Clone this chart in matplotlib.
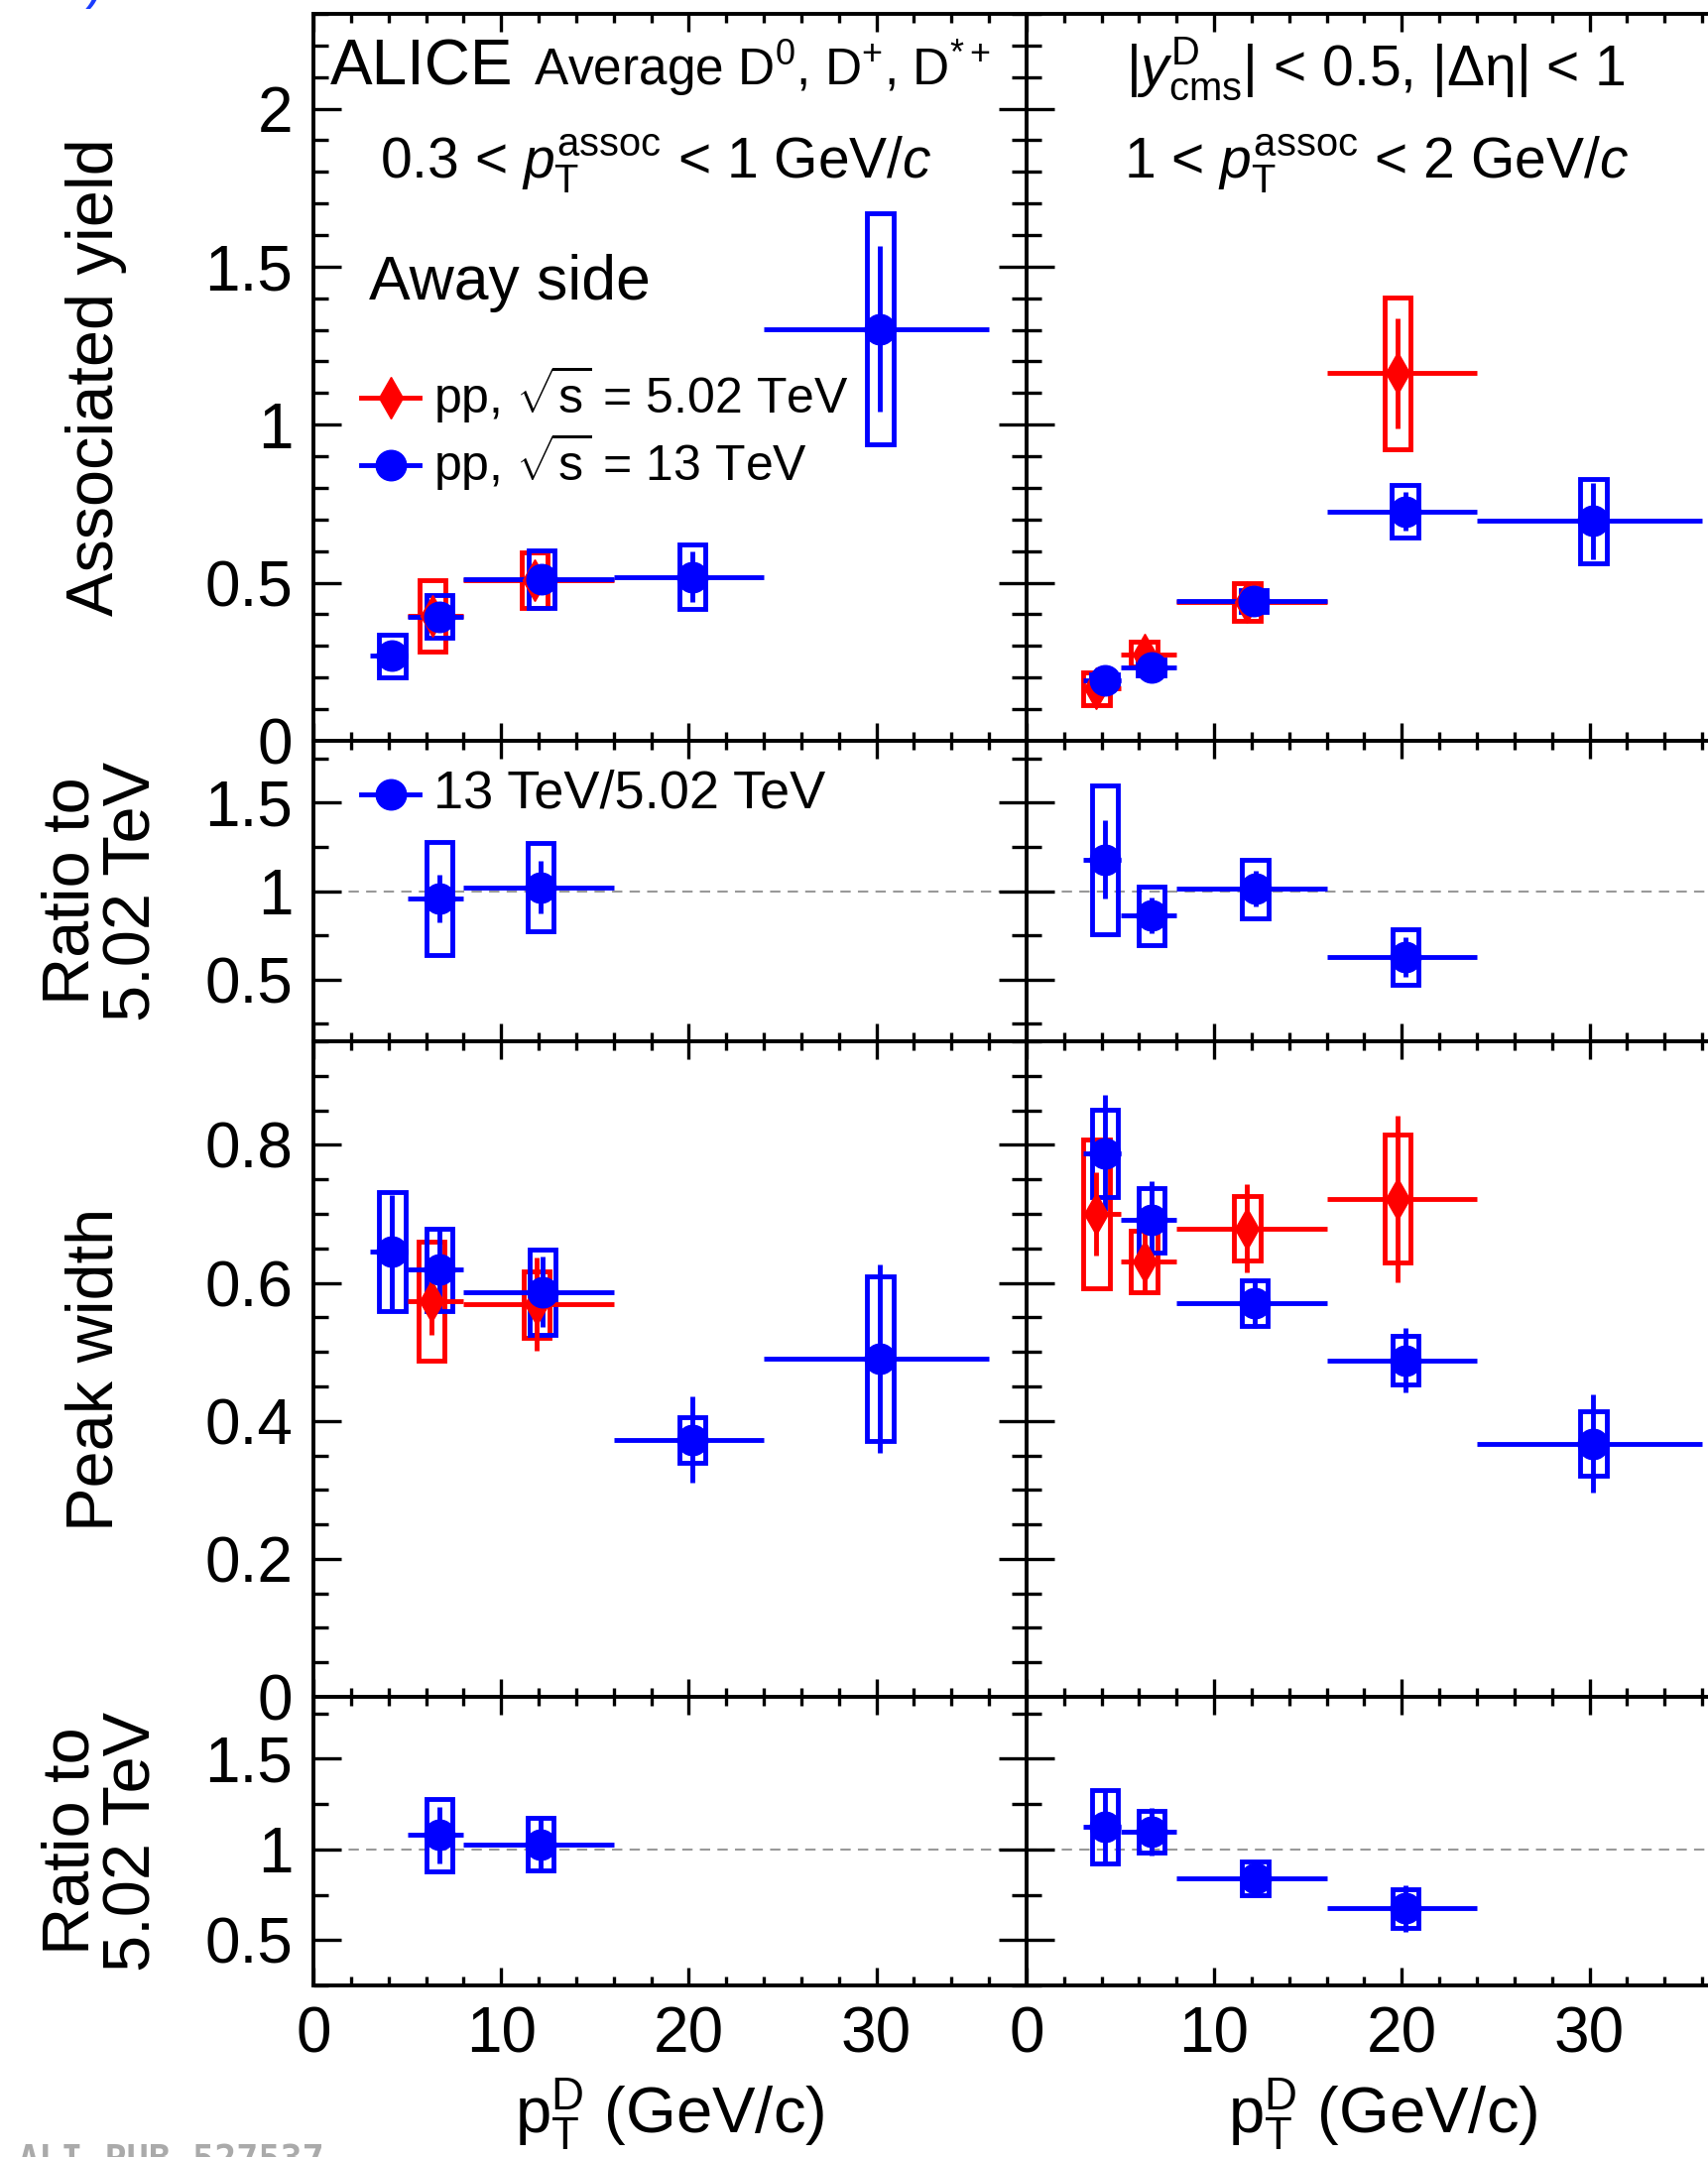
import matplotlib
matplotlib.use("Agg")
import matplotlib.pyplot as plt
from matplotlib.patches import Rectangle
from matplotlib.lines import Line2D
from matplotlib.ticker import MultipleLocator, FuncFormatter

plt.rcParams['font.family'] = ['Liberation Sans', 'DejaVu Sans']
plt.rcParams['mathtext.fontset'] = 'custom'
plt.rcParams['mathtext.rm'] = 'Liberation Sans'
plt.rcParams['mathtext.it'] = 'Liberation Sans:italic'
plt.rcParams['mathtext.bf'] = 'Liberation Sans:bold'
plt.rcParams['mathtext.sf'] = 'Liberation Sans'

# D-meson pT bins (GeV/c)
pt_lo = [3, 5, 8, 16, 24]
pt_hi = [5, 8, 16, 24, 36]

# away-side associated yield, 0.3 < pT assoc < 1
yl13_x = [4.2, 6.7, 12.15, 20.2, 30.2]
yl13_y = [0.268, 0.393, 0.511, 0.518, 1.303]
yl13_stat = [0.02, 0.03, 0.03, 0.08, 0.263]
yl13_syst = [0.068, 0.068, 0.09, 0.102, 0.366]
yl5_bins = [1, 2]
yl5_x = [6.33, 11.8]
yl5_y = [0.396, 0.508]
yl5_stat = [0.03, 0.04]
yl5_syst = [0.113, 0.088]

# away-side associated yield, 1 < pT assoc < 2
yh13_x = [4.16, 6.65, 12.1, 20.17, 30.2]
yh13_y = [0.19, 0.233, 0.442, 0.726, 0.695]
yh13_stat = [0.01, 0.012, 0.015, 0.06, 0.12]
yh13_syst = [0.02, 0.025, 0.035, 0.084, 0.134]
yh5_bins = [0, 1, 2, 3]
yh5_x = [3.73, 6.27, 11.76, 19.76]
yh5_y = [0.165, 0.274, 0.439, 1.163]
yh5_stat = [0.015, 0.02, 0.02, 0.174]
yh5_syst = [0.052, 0.04, 0.06, 0.24]

# yield ratio 13 / 5.02 TeV
ryl_bins = [1, 2]
ryl_x = [6.7, 12.1]
ryl_y = [0.957, 1.022]
ryl_stat = [0.135, 0.15]
ryl_syst = [0.32, 0.25]
ryh_bins = [0, 1, 2, 3]
ryh_x = [4.17, 6.67, 12.2, 20.2]
ryh_y = [1.179, 0.862, 1.013, 0.628]
ryh_stat = [0.22, 0.10, 0.10, 0.11]
ryh_syst = [0.42, 0.165, 0.165, 0.155]

# away-side peak width, 0.3 < pT assoc < 1
wl13_x = [4.2, 6.7, 12.2, 20.2, 30.2]
wl13_y = [0.645, 0.619, 0.587, 0.373, 0.490]
wl13_stat = [0.083, 0.06, 0.051, 0.062, 0.137]
wl13_syst = [0.086, 0.06, 0.062, 0.033, 0.119]
wl5_bins = [1, 2]
wl5_x = [6.3, 11.9]
wl5_y = [0.574, 0.569]
wl5_stat = [0.05, 0.068]
wl5_syst = [0.086, 0.048]

# away-side peak width, 1 < pT assoc < 2
wh13_x = [4.17, 6.67, 12.16, 20.2, 30.2]
wh13_y = [0.788, 0.691, 0.571, 0.488, 0.367]
wh13_stat = [0.084, 0.056, 0.036, 0.047, 0.071]
wh13_syst = [0.063, 0.047, 0.033, 0.035, 0.047]
wh5_bins = [0, 1, 2, 3]
wh5_x = [3.73, 6.27, 11.76, 19.76]
wh5_y = [0.700, 0.631, 0.679, 0.722]
wh5_stat = [0.06, 0.047, 0.064, 0.121]
wh5_syst = [0.108, 0.044, 0.047, 0.093]

# width ratio 13 / 5.02 TeV
rwl_bins = [1, 2]
rwl_x = [6.7, 12.1]
rwl_y = [1.079, 1.029]
rwl_stat = [0.156, 0.145]
rwl_syst = [0.199, 0.146]
rwh_bins = [0, 1, 2, 3]
rwh_x = [4.17, 6.67, 12.2, 20.2]
rwh_y = [1.125, 1.097, 0.840, 0.675]
rwh_stat = [0.209, 0.133, 0.09, 0.13]
rwh_syst = [0.204, 0.113, 0.095, 0.108]

BLUE = '#0000ff'
RED = '#ff0000'
BOX_HW = 0.7
LW = 3.5
MS_CIRC = 22
MS_DIAM = 21


def draw(ax, bins, x, y, stat, syst, color, marker, ms):
    lo = [x[i] - pt_lo[b] for i, b in enumerate(bins)]
    hi = [pt_hi[b] - x[i] for i, b in enumerate(bins)]
    for xi, yi, si in zip(x, y, syst):
        ax.add_patch(Rectangle((xi - BOX_HW, yi - si), 2 * BOX_HW, 2 * si,
                               fill=False, ec=color, lw=LW, zorder=3))
    ax.errorbar(x, y, xerr=[lo, hi], yerr=stat, fmt=marker, color=color,
                mec=color, mfc=color, ms=ms, elinewidth=LW, capsize=0, zorder=4)


fig = plt.figure(figsize=(17.22, 21.75), dpi=100)

L0, R0, W = 0.1835, 0.6010, 0.4175
rows = [(0.6566, 0.3370), (0.5172, 0.1393), (0.2133, 0.3039), (0.0795, 0.1338)]
ylims = [(0, 2.3), (0.15, 1.85), (0, 0.95), (0.25, 1.84)]
ymaj = [0.5, 0.5, 0.2, 0.5]
ymin = [0.1, 0.25, 0.05, 0.25]

axes = []
for r, (b, h) in enumerate(rows):
    row = []
    for c, x0 in enumerate([L0, R0]):
        ax = fig.add_axes([x0, b, W, h])
        ax.set_xlim(0, 38)
        ax.set_ylim(*ylims[r])
        ax.xaxis.set_major_locator(MultipleLocator(10))
        ax.xaxis.set_minor_locator(MultipleLocator(2))
        ax.yaxis.set_major_locator(MultipleLocator(ymaj[r]))
        ax.yaxis.set_minor_locator(MultipleLocator(ymin[r]))
        ax.yaxis.set_major_formatter(FuncFormatter(lambda v, p: f"{v:g}"))
        ax.tick_params(which='both', direction='in', top=True, right=True,
                       width=2.4, labelsize=46)
        ax.tick_params(axis='y', which='major', length=20, pad=15)
        ax.tick_params(axis='y', which='minor', length=11)
        ax.tick_params(axis='x', which='major', length=13, pad=15)
        ax.tick_params(axis='x', which='minor', length=6.5)
        for s in ax.spines.values():
            s.set_linewidth(2.8)
        if r < 3:
            ax.tick_params(axis='x', labelbottom=False)
        if c == 1:
            ax.tick_params(axis='y', labelleft=False)
        if r in (1, 3):
            ax.axhline(1, color='#999999', lw=1.5, ls=(0, (5, 3.5)), zorder=1)
        row.append(ax)
    axes.append(row)

# yields
draw(axes[0][0], yl5_bins, yl5_x, yl5_y, yl5_stat, yl5_syst, RED, 'd', MS_DIAM)
draw(axes[0][0], range(5), yl13_x, yl13_y, yl13_stat, yl13_syst, BLUE, 'o', MS_CIRC)
draw(axes[0][1], yh5_bins, yh5_x, yh5_y, yh5_stat, yh5_syst, RED, 'd', MS_DIAM)
draw(axes[0][1], range(5), yh13_x, yh13_y, yh13_stat, yh13_syst, BLUE, 'o', MS_CIRC)
draw(axes[1][0], ryl_bins, ryl_x, ryl_y, ryl_stat, ryl_syst, BLUE, 'o', MS_CIRC)
draw(axes[1][1], ryh_bins, ryh_x, ryh_y, ryh_stat, ryh_syst, BLUE, 'o', MS_CIRC)
# widths
draw(axes[2][0], wl5_bins, wl5_x, wl5_y, wl5_stat, wl5_syst, RED, 'd', MS_DIAM)
draw(axes[2][0], range(5), wl13_x, wl13_y, wl13_stat, wl13_syst, BLUE, 'o', MS_CIRC)
draw(axes[2][1], wh5_bins, wh5_x, wh5_y, wh5_stat, wh5_syst, RED, 'd', MS_DIAM)
draw(axes[2][1], range(5), wh13_x, wh13_y, wh13_stat, wh13_syst, BLUE, 'o', MS_CIRC)
draw(axes[3][0], rwl_bins, rwl_x, rwl_y, rwl_stat, rwl_syst, BLUE, 'o', MS_CIRC)
draw(axes[3][1], rwh_bins, rwh_x, rwh_y, rwh_stat, rwh_syst, BLUE, 'o', MS_CIRC)

# y labels (centred on the given x)
ylabs = [(0, 'Associated yield', -0.305), (1, 'Ratio to\n5.02 TeV', -0.295),
         (2, 'Peak width', -0.305), (3, 'Ratio to\n5.02 TeV', -0.295)]
for r, lab, xc in ylabs:
    axes[r][0].set_ylabel(lab, fontsize=48, linespacing=1.0, va='center')
    axes[r][0].yaxis.set_label_coords(xc, 0.5)

for ax in axes[3]:
    ax.set_xlabel(r'$\mathrm{p}_{\mathrm{T}}^{\mathrm{D}}$ (GeV/c)', fontsize=47, labelpad=8)

# annotations
a = axes[0][0]
a.text(0.024, 0.902, 'ALICE', transform=a.transAxes, fontsize=46)
a.text(0.309, 0.902, r'Average D$^{0}$, D$^{+}$, D$^{*+}$', transform=a.transAxes, fontsize=37)
a.text(0.48, 0.774, r'0.3 < $p_{\mathrm{T}}^{\mathrm{assoc}}$ < 1 GeV/$c$', transform=a.transAxes,
       fontsize=41, ha='center')
a.text(0.078, 0.607, 'Away side', transform=a.transAxes, fontsize=45)

leg = [(RED, 'd', MS_DIAM, r'pp, $\sqrt{\mathrm{s}}$ = 5.02 TeV', 0.472),
       (BLUE, 'o', MS_CIRC, r'pp, $\sqrt{\mathrm{s}}$ = 13 TeV', 0.379)]
for col, mk, ms, lab, yy in leg:
    a.add_line(Line2D([0.067, 0.149], [yy, yy], color=col, lw=LW, transform=a.transAxes))
    a.add_line(Line2D([0.108], [yy], color=col, marker=mk, ms=ms, transform=a.transAxes))
    a.text(0.168, yy - 0.02, lab, transform=a.transAxes, fontsize=36)

a = axes[0][1]
a.text(0.49, 0.902, r'|$y^{\mathrm{D}}_{\mathrm{cms}}$| < 0.5, |Δη| < 1', transform=a.transAxes,
       fontsize=41, ha='center')
a.text(0.49, 0.774, r'1 < $p_{\mathrm{T}}^{\mathrm{assoc}}$ < 2 GeV/$c$', transform=a.transAxes,
       fontsize=41, ha='center')

a = axes[1][0]
a.add_line(Line2D([0.067, 0.149], [0.822, 0.822], color=BLUE, lw=LW, transform=a.transAxes))
a.add_line(Line2D([0.108], [0.822], color=BLUE, marker='o', ms=MS_CIRC, transform=a.transAxes))
a.text(0.168, 0.776, '13 TeV/5.02 TeV', transform=a.transAxes, fontsize=39)

fig.text(0.05, 1 - 9 / 2175, ')', color='#1a3cff', fontsize=40, va='bottom')
fig.text(17 / 1722, 1 - 2160 / 2175, 'ALI-PUB-527537', va='top', family='DejaVu Sans Mono',
         weight='bold', fontsize=26.5, color='#aaaaaa')

fig.savefig('out.png', dpi=100)
